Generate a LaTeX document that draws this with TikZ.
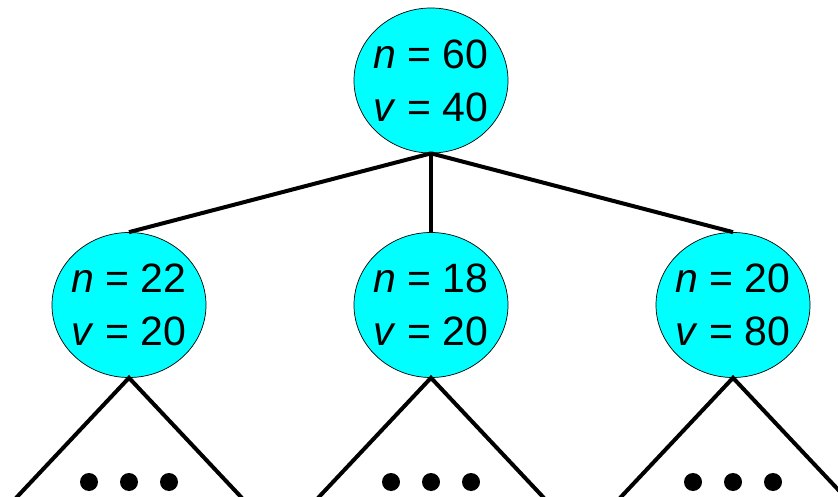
\documentclass[tikz,border=0pt]{standalone}
\usepackage{fontspec}
\setmainfont{Liberation Sans}
\usetikzlibrary{shapes.geometric}
\definecolor{nodecyan}{RGB}{0,255,255}
\begin{document}
\begin{tikzpicture}[x=1pt,y=1pt,
  treenode/.style={ellipse,draw=black,line width=0.7pt,fill=nodecyan,
    minimum width=154pt,minimum height=145pt,inner xsep=-4pt,inner ysep=0pt,align=center,
    font=\fontsize{41}{53}\selectfont},
  edge/.style={line width=4pt},
  dot/.style={circle,fill=black,minimum size=18pt,inner sep=0pt}]
\useasboundingbox (0,0) rectangle (838,496);
\clip (0,0) rectangle (838,496);
\node[treenode] (r) at (431,415.5) {\textit{n} = 60\\\textit{v} = 40};
\node[treenode] (a) at (129,191) {\textit{n} = 22\\\textit{v} = 20};
\node[treenode] (b) at (431,191) {\textit{n} = 18\\\textit{v} = 20};
\node[treenode] (c) at (733,191) {\textit{n} = 20\\\textit{v} = 80};
\draw[edge] (r.south) -- (a.north);
\draw[edge] (r.south) -- (b.north);
\draw[edge] (r.south) -- (c.north);
\foreach \t/\x in {a/129,b/431,c/733}{
  \coordinate (\t L) at (\x-113,-2);
  \coordinate (\t R) at (\x+113,-2);
  \draw[edge] (\t L) -- (\t.south) -- (\t R);
  \node[dot] (\t d1) at (\x-40,14) {};
  \node[dot] (\t d2) at (\x,14) {};
  \node[dot] (\t d3) at (\x+40,14) {};
}
\end{tikzpicture}
\end{document}
